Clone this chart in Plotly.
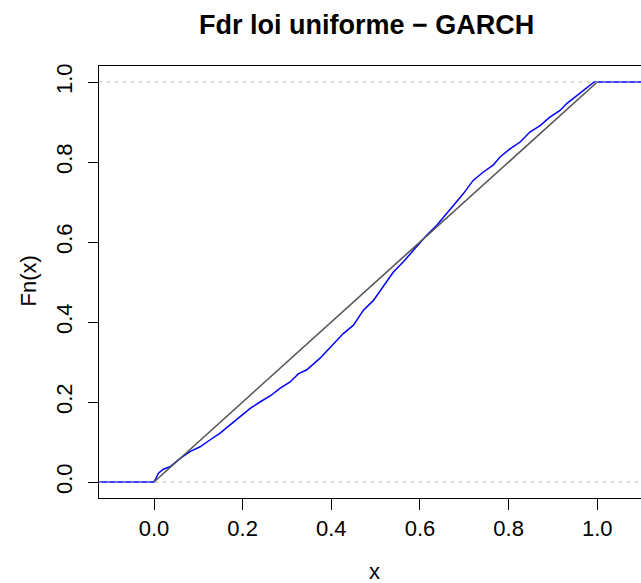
import plotly.graph_objects as go

# ---- data ----
ecdf_x = [-0.2, 0.0, 0.010, 0.021, 0.036, 0.059, 0.081, 0.104, 0.126, 0.149,
          0.171, 0.194, 0.217, 0.239, 0.262, 0.284, 0.307, 0.326, 0.344, 0.374,
          0.404, 0.427, 0.450, 0.472, 0.495, 0.517, 0.540, 0.562, 0.593, 0.615,
          0.638, 0.660, 0.683, 0.698, 0.720, 0.743, 0.765, 0.780, 0.803, 0.826,
          0.848, 0.871, 0.893, 0.916, 0.931, 0.954, 0.976, 0.993, 1.2]
ecdf_y = [0.0, 0.0, 0.022, 0.032, 0.038, 0.059, 0.076, 0.088, 0.105, 0.122,
          0.142, 0.163, 0.184, 0.200, 0.215, 0.234, 0.250, 0.271, 0.280, 0.309,
          0.344, 0.371, 0.392, 0.429, 0.454, 0.488, 0.525, 0.550, 0.588, 0.617,
          0.642, 0.671, 0.700, 0.721, 0.754, 0.775, 0.792, 0.812, 0.833, 0.850,
          0.875, 0.891, 0.912, 0.929, 0.946, 0.966, 0.987, 1.0, 1.0]
unif_x = [0.0, 1.0]
unif_y = [0.0, 1.0]
ref_levels = [0.0, 1.0]
x_ticks = [0.0, 0.2, 0.4, 0.6, 0.8, 1.0]
y_ticks = [0.0, 0.2, 0.4, 0.6, 0.8, 1.0]
title_text = "Fdr loi uniforme \u2212 GARCH"
x_label = "x"
y_label = "Fn(x)"

FONT = "Liberation Sans, Arial, Helvetica, sans-serif"

fig = go.Figure()
fig.add_trace(go.Scatter(x=ecdf_x, y=ecdf_y, mode="lines",
                         line=dict(color="#0000FF", width=1.5), showlegend=False))
fig.add_trace(go.Scatter(x=unif_x, y=unif_y, mode="lines",
                         line=dict(color="#555555", width=1.6), showlegend=False))

for lv in ref_levels:
    fig.add_shape(type="line", xref="paper", x0=0, x1=1, yref="y", y0=lv, y1=lv,
                  line=dict(color="#B3B3B3", width=1, dash="3px,5px"), layer="above")

fig.update_layout(
    width=641, height=583,
    margin=dict(l=99, r=0, t=66, b=85, pad=0),
    paper_bgcolor="white", plot_bgcolor="white",
    font=dict(family=FONT, size=22, color="black"),
    title=dict(text="<b>" + title_text + "</b>", font=dict(family=FONT, size=27, color="black"),
               xref="container", x=366.7 / 641, xanchor="center",
               yref="container", y=1 - 25 / 583, yanchor="middle"),
    showlegend=False,
)
fig.update_xaxes(range=[-0.1241, 1.0986], tickvals=x_ticks, tickformat=".1f",
                 showgrid=False, zeroline=False, showline=True, mirror=True,
                 linecolor="black", linewidth=1, ticks="outside", ticklen=11,
                 tickcolor="black", tickwidth=1, tickfont=dict(size=22))
fig.update_yaxes(range=[-0.04, 1.04], tickvals=y_ticks, tickformat=".1f",
                 showgrid=False, zeroline=False, showline=True, mirror=False,
                 linecolor="black", linewidth=1, ticks="outside", ticklen=10,
                 tickcolor="black", tickwidth=1, tickangle=-90, tickfont=dict(size=22),
                 ticklabelstandoff=7)

fig.add_annotation(text=y_label, xref="paper", yref="paper",
                   x=(27.5 - 99) / 542, y=(498 - 281) / 432, textangle=-90,
                   showarrow=False, xanchor="center", yanchor="middle",
                   font=dict(family=FONT, size=22, color="black"))
fig.add_annotation(text=x_label, xref="paper", yref="paper",
                   x=(374 - 99) / 542, y=(498 - 571) / 432,
                   showarrow=False, xanchor="center", yanchor="middle",
                   font=dict(family=FONT, size=22, color="black"))

fig.write_html("out.html", config={"displayModeBar": False},
               post_script="document.body.style.margin='0px';document.body.style.overflow='hidden';")
